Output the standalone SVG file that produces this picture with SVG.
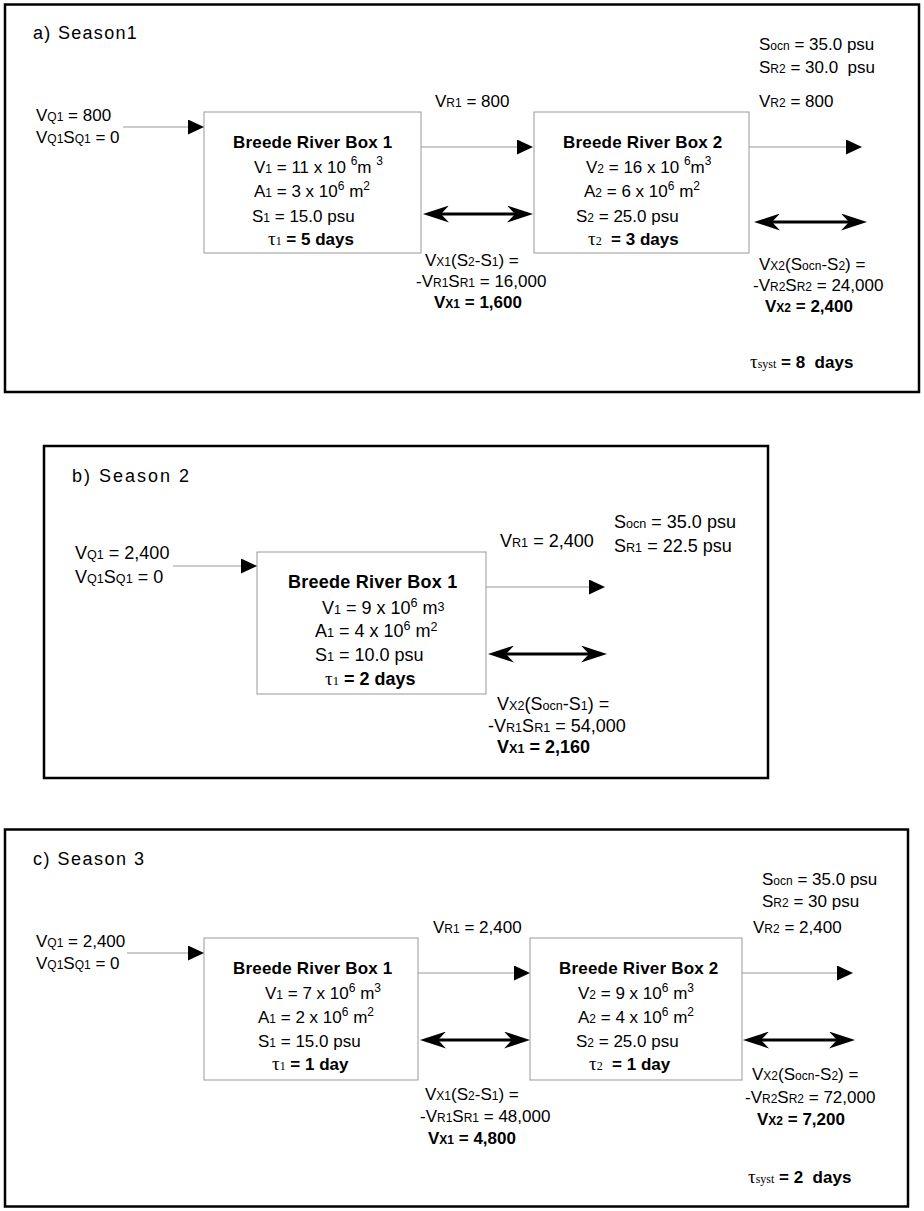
<svg xmlns="http://www.w3.org/2000/svg" width="924" height="1211" viewBox="0 0 924 1211">
<style>
text{font-family:"Liberation Sans",Arial,Helvetica,sans-serif;font-size:17px;fill:#000;white-space:pre}
.h{font-size:18px;letter-spacing:1.3px}
.hb{font-size:18px;letter-spacing:2px}
.lb{font-size:18px}
.b{font-weight:bold}
.bt{font-weight:bold;font-size:17px;letter-spacing:0.2px}
.bt2{font-weight:bold;font-size:18px;letter-spacing:0.25px}
.s{font-size:12px}
.s2{font-size:12.6px}
.p{font-size:12px}
.g{font-family:"Liberation Serif","Times New Roman",serif;font-weight:normal}
.tau{font-size:19px}
.frame{fill:none;stroke:#000;stroke-width:2.5}
.box{fill:#fff;stroke:#999;stroke-width:1}
.flow{stroke:#999;stroke-width:1;fill:none}
.ex{stroke:#000;stroke-width:3;fill:none}
</style>
<defs>
<marker id="ah" markerUnits="userSpaceOnUse" markerWidth="16" markerHeight="15" refX="0" refY="7.5" orient="auto" viewBox="0 0 16 15">
<path d="M0,0 L16,7.5 L0,15 z" fill="#000"/>
</marker>
<marker id="bh" markerUnits="userSpaceOnUse" markerWidth="26" markerHeight="17" refX="8" refY="8.5" orient="auto-start-reverse" viewBox="0 0 26 17">
<path d="M0,0 L26,8.5 L0,17 L8,8.5 z" fill="#000"/>
</marker>
</defs>
<rect width="924" height="1211" fill="#fff"/>

<!-- Panel a -->
<g id="panel-a">
<rect class="frame" x="5" y="4.5" width="914" height="387.5"/>
<text class="h" x="33" y="39">a) Season1</text>
</g>
<g id="a-inflow-label">
<text x="36" y="121">V<tspan class="s">Q1</tspan> = 800</text>
<text x="36" y="143">V<tspan class="s">Q1</tspan>S<tspan class="s">Q1</tspan> = 0</text>
</g>
<g id="a-box1">
<rect class="box" x="204" y="112" width="217" height="141"/>
<text class="bt" x="233" y="148">Breede River Box 1</text>
<text x="254" y="173">V<tspan class="s">1</tspan> = 11 x 10 <tspan class="p" dy="-8">6</tspan><tspan dy="8">m </tspan><tspan class="p" dy="-8">3</tspan></text>
<text x="254" y="197">A<tspan class="s">1</tspan> = 3 x 10<tspan class="p" dy="-7">6</tspan><tspan dy="7"> m</tspan><tspan class="p" dy="-7">2</tspan></text>
<text x="252" y="222">S<tspan class="s">1</tspan> = 15.0 psu</text>
<text class="b" x="268" y="245"><tspan class="g tau">τ</tspan><tspan class="g s">1</tspan> = 5 days</text>
</g>
<g id="a-box2">
<rect class="box" x="534" y="112" width="215" height="141"/>
<text class="bt" x="563" y="148">Breede River Box 2</text>
<text x="586" y="173">V<tspan class="s">2</tspan> = 16 x 10 <tspan class="p" dy="-8">6</tspan><tspan dy="8">m</tspan><tspan class="p" dy="-8">3</tspan></text>
<text x="584" y="197">A<tspan class="s">2</tspan> = 6 x 10<tspan class="p" dy="-7">6</tspan><tspan dy="7"> m</tspan><tspan class="p" dy="-7">2</tspan></text>
<text x="576" y="222">S<tspan class="s">2</tspan> = 25.0 psu</text>
<text class="b" x="588" y="245"><tspan class="g tau">τ</tspan><tspan class="g s">2</tspan>  = 3 days</text>
</g>
<g id="a-labels">
<text x="435" y="107">V<tspan class="s">R1</tspan> = 800</text>
<text x="759" y="50">S<tspan class="s">ocn</tspan> = 35.0 psu</text>
<text x="759" y="73">S<tspan class="s">R2</tspan> = 30.0  psu</text>
<text x="759" y="107">V<tspan class="s">R2</tspan> = 800</text>
<text x="425" y="266">V<tspan class="s">X1</tspan>(S<tspan class="s">2</tspan>-S<tspan class="s">1</tspan>) =</text>
<text x="416" y="287">-V<tspan class="s">R1</tspan>S<tspan class="s">R1</tspan> = 16,000</text>
<text class="b" x="434" y="308">V<tspan class="s">X1</tspan> = 1,600</text>
<text x="759" y="270">V<tspan class="s">X2</tspan>(S<tspan class="s">ocn</tspan>-S<tspan class="s">2</tspan>) =</text>
<text x="753" y="291">-V<tspan class="s">R2</tspan>S<tspan class="s">R2</tspan> = 24,000</text>
<text class="b" x="765" y="312">V<tspan class="s">X2</tspan> = 2,400</text>
<text class="b" x="750" y="368"><tspan class="g tau">τ</tspan><tspan class="g s">syst</tspan> = 8  days</text>
</g>

<!-- Panel b -->
<g id="panel-b">
<rect class="frame" x="44" y="446" width="724" height="332"/>
<text class="hb" x="72" y="482">b) Season 2</text>
</g>
<g id="b-inflow-label">
<text class="lb" x="75" y="559">V<tspan class="s2">Q1</tspan> = 2,400</text>
<text class="lb" x="75" y="583">V<tspan class="s2">Q1</tspan>S<tspan class="s2">Q1</tspan> = 0</text>
</g>
<g id="b-box1">
<rect class="box" x="257" y="552" width="229" height="142"/>
<text class="bt2" x="288" y="588">Breede River Box 1</text>
<text class="lb" x="322" y="614">V<tspan class="s2">1</tspan> = 9 x 10<tspan class="s2" dy="-7">6</tspan><tspan dy="7"> m</tspan><tspan class="s2" dy="-3">3</tspan></text>
<text class="lb" x="315" y="637">A<tspan class="s2">1</tspan> = 4 x 10<tspan class="s2" dy="-7">6</tspan><tspan dy="7"> m</tspan><tspan class="s2" dy="-6">2</tspan></text>
<text class="lb" x="315" y="661">S<tspan class="s2">1</tspan> = 10.0 psu</text>
<text class="lb b" x="325" y="685"><tspan class="g tau">τ</tspan><tspan class="g s2">1</tspan> = 2 days</text>
</g>
<g id="b-labels">
<text class="lb" x="500" y="547">V<tspan class="s2">R1</tspan> = 2,400</text>
<text class="lb" x="614" y="528">S<tspan class="s2">ocn</tspan> = 35.0 psu</text>
<text class="lb" x="614" y="552">S<tspan class="s2">R1</tspan> = 22.5 psu</text>
<text class="lb" x="497" y="710">V<tspan class="s2">X2</tspan>(S<tspan class="s2">ocn</tspan>-S<tspan class="s2">1</tspan>) =</text>
<text class="lb" x="488" y="732">-V<tspan class="s2">R1</tspan>S<tspan class="s2">R1</tspan> = 54,000</text>
<text class="lb b" x="497" y="753">V<tspan class="s2">X1</tspan> = 2,160</text>
</g>

<!-- Panel c -->
<g id="panel-c">
<rect class="frame" x="5" y="829.5" width="903" height="377"/>
<text class="h" x="33" y="865" style="letter-spacing:1.5px">c) Season 3</text>
</g>
<g id="c-inflow-label">
<text x="36" y="947">V<tspan class="s">Q1</tspan> = 2,400</text>
<text x="36" y="969">V<tspan class="s">Q1</tspan>S<tspan class="s">Q1</tspan> = 0</text>
</g>
<g id="c-box1">
<rect class="box" x="204" y="938" width="214" height="142"/>
<text class="bt" x="233" y="974">Breede River Box 1</text>
<text x="265" y="999">V<tspan class="s">1</tspan> = 7 x 10<tspan class="p" dy="-7">6</tspan><tspan dy="7"> m</tspan><tspan class="p" dy="-7">3</tspan></text>
<text x="258" y="1023">A<tspan class="s">1</tspan> = 2 x 10<tspan class="p" dy="-7">6</tspan><tspan dy="7"> m</tspan><tspan class="p" dy="-7">2</tspan></text>
<text x="258" y="1047">S<tspan class="s">1</tspan> = 15.0 psu</text>
<text class="b" x="272" y="1070"><tspan class="g tau">τ</tspan><tspan class="g s">1</tspan> = 1 day</text>
</g>
<g id="c-box2">
<rect class="box" x="530" y="938" width="212" height="142"/>
<text class="bt" x="559" y="974">Breede River Box 2</text>
<text x="578" y="999">V<tspan class="s">2</tspan> = 9 x 10<tspan class="p" dy="-7">6</tspan><tspan dy="7"> m</tspan><tspan class="p" dy="-7">3</tspan></text>
<text x="578" y="1023">A<tspan class="s">2</tspan> = 4 x 10<tspan class="p" dy="-7">6</tspan><tspan dy="7"> m</tspan><tspan class="p" dy="-7">2</tspan></text>
<text x="576" y="1047">S<tspan class="s">2</tspan> = 25.0 psu</text>
<text class="b" x="589" y="1070"><tspan class="g tau">τ</tspan><tspan class="g s">2</tspan>  = 1 day</text>
</g>
<g id="c-labels">
<text x="433" y="933">V<tspan class="s">R1</tspan> = 2,400</text>
<text x="762" y="885">S<tspan class="s">ocn</tspan> = 35.0 psu</text>
<text x="762" y="907">S<tspan class="s">R2</tspan> = 30 psu</text>
<text x="753" y="933">V<tspan class="s">R2</tspan> = 2,400</text>
<text x="425" y="1100">V<tspan class="s">X1</tspan>(S<tspan class="s">2</tspan>-S<tspan class="s">1</tspan>) =</text>
<text x="420" y="1122">-V<tspan class="s">R1</tspan>S<tspan class="s">R1</tspan> = 48,000</text>
<text class="b" x="428" y="1144">V<tspan class="s">X1</tspan> = 4,800</text>
<text x="752" y="1080">V<tspan class="s">X2</tspan>(S<tspan class="s">ocn</tspan>-S<tspan class="s">2</tspan>) =</text>
<text x="745" y="1103">-V<tspan class="s">R2</tspan>S<tspan class="s">R2</tspan> = 72,000</text>
<text class="b" x="757" y="1125">V<tspan class="s">X2</tspan> = 7,200</text>
<text class="b" x="748" y="1183"><tspan class="g tau">τ</tspan><tspan class="g s">syst</tspan> = 2  days</text>
</g>

<g id="connectors">
<!-- panel a -->
<line class="flow" x1="123" y1="127" x2="188" y2="127" marker-end="url(#ah)"/>
<line class="flow" x1="421" y1="147" x2="517" y2="147" marker-end="url(#ah)"/>
<line class="flow" x1="749" y1="147" x2="846" y2="147" marker-end="url(#ah)"/>
<line class="ex" x1="441" y1="214" x2="515" y2="214" marker-start="url(#bh)" marker-end="url(#bh)"/>
<line class="ex" x1="772" y1="222" x2="849" y2="222" marker-start="url(#bh)" marker-end="url(#bh)"/>
<!-- panel b -->
<line class="flow" x1="173" y1="566" x2="241" y2="566" marker-end="url(#ah)"/>
<line class="flow" x1="486" y1="587" x2="589" y2="587" marker-end="url(#ah)"/>
<line class="ex" x1="506" y1="654" x2="589" y2="654" marker-start="url(#bh)" marker-end="url(#bh)"/>
<!-- panel c -->
<line class="flow" x1="127" y1="953" x2="188" y2="953" marker-end="url(#ah)"/>
<line class="flow" x1="418" y1="973" x2="514" y2="973" marker-end="url(#ah)"/>
<line class="flow" x1="742" y1="973" x2="837" y2="973" marker-end="url(#ah)"/>
<line class="ex" x1="438" y1="1040" x2="512" y2="1040" marker-start="url(#bh)" marker-end="url(#bh)"/>
<line class="ex" x1="761" y1="1040" x2="837" y2="1040" marker-start="url(#bh)" marker-end="url(#bh)"/>
</g>
</svg>
